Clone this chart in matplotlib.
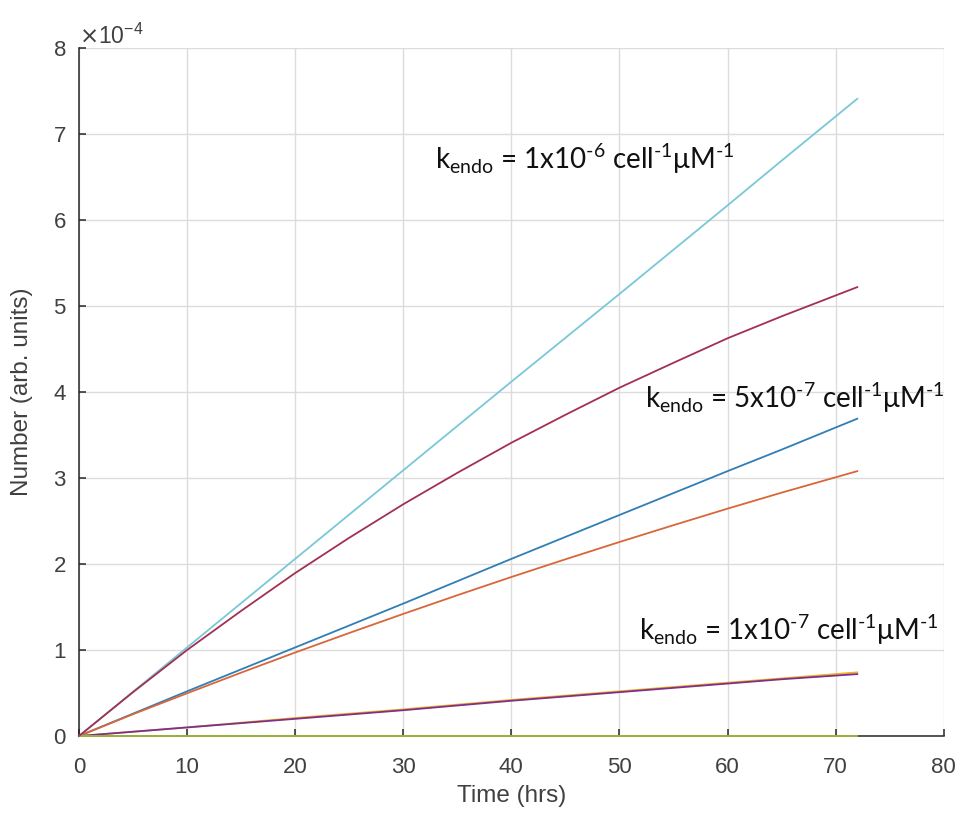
# kendo curves, recreated in matplotlib

import matplotlib.pyplot as plt

# time points (hrs)
t = [0, 5, 10, 15, 20, 25, 30, 35, 40, 45, 50, 55, 60, 65, 72]

# series values (arb. units)
cyan_vals = [0, 0.515e-4, 1.03e-4, 1.545e-4, 2.06e-4, 2.575e-4, 3.09e-4, 3.605e-4, 4.12e-4,
             4.63e-4, 5.14e-4, 5.655e-4, 6.17e-4, 6.69e-4, 7.41e-4]
red_vals = [0, 0.51e-4, 1.00e-4, 1.455e-4, 1.895e-4, 2.305e-4, 2.695e-4, 3.06e-4, 3.41e-4,
            3.735e-4, 4.05e-4, 4.34e-4, 4.625e-4, 4.88e-4, 5.22e-4]
blue_vals = [0, 0.26e-4, 0.52e-4, 0.775e-4, 1.03e-4, 1.285e-4, 1.54e-4, 1.80e-4, 2.06e-4,
             2.315e-4, 2.57e-4, 2.825e-4, 3.08e-4, 3.33e-4, 3.69e-4]
orange_vals = [0, 0.254e-4, 0.497e-4, 0.737e-4, 0.971e-4, 1.198e-4, 1.42e-4, 1.637e-4, 1.849e-4,
               2.055e-4, 2.256e-4, 2.452e-4, 2.644e-4, 2.83e-4, 3.08e-4]
yellow_vals = [0, 0.05e-4, 0.10e-4, 0.155e-4, 0.21e-4, 0.26e-4, 0.31e-4, 0.365e-4, 0.42e-4,
               0.47e-4, 0.52e-4, 0.57e-4, 0.62e-4, 0.67e-4, 0.74e-4]
purple_vals = [0, 0.05e-4, 0.10e-4, 0.15e-4, 0.20e-4, 0.25e-4, 0.30e-4, 0.355e-4, 0.41e-4,
               0.46e-4, 0.51e-4, 0.56e-4, 0.61e-4, 0.66e-4, 0.72e-4]
green_vals = [0] * 15

series = [
    (blue_vals, '#2f7fb5'),
    (orange_vals, '#d9663a'),
    (yellow_vals, '#EDB120'),
    (purple_vals, '#7E2F8E'),
    (green_vals, '#9cbc3c'),
    (cyan_vals, '#78c8d8'),
    (red_vals, '#a23050'),
]

H = '\u2010'  # short hyphen like the original
labels = [
    (r'k$_{\mathdefault{endo}}$ = 1x10$^{\mathdefault{' + H + r'6}}$ cell$^{\mathdefault{' + H + r'1}}$μM$^{\mathdefault{' + H + r'1}}$', 32.9, 6.59e-4),
    (r'k$_{\mathdefault{endo}}$ = 5x10$^{\mathdefault{' + H + r'7}}$ cell$^{\mathdefault{' + H + r'1}}$μM$^{\mathdefault{' + H + r'1}}$', 52.4, 3.81e-4),
    (r'k$_{\mathdefault{endo}}$ = 1x10$^{\mathdefault{' + H + r'7}}$ cell$^{\mathdefault{' + H + r'1}}$μM$^{\mathdefault{' + H + r'1}}$', 51.8, 1.12e-4),
]

plt.rcParams['font.family'] = ['Liberation Sans', 'DejaVu Sans']

fig = plt.figure(figsize=(9.63, 8.21), dpi=100)
ax = fig.add_axes([0.082, 0.1035, 0.898, 0.838])

for vals, c in series:
    ax.plot(t, vals, color=c, linewidth=1.3, clip_on=False, zorder=3)

for txt, x, y in labels:
    ax.text(x, y, txt, fontsize=20, family=['Lato', 'DejaVu Sans'],
            ha='left', va='baseline', color='#111111')

ax.set_xlim(0, 80)
ax.set_ylim(0, 8e-4)
ax.set_xticks(range(0, 81, 10))
ax.set_yticks([i * 1e-4 for i in range(9)])
ax.ticklabel_format(axis='y', style='sci', scilimits=(0, 0), useMathText=True)
ax.yaxis.get_offset_text().set_fontsize(16.5)
ax.yaxis.get_offset_text().set_color('#404040')

ax.grid(True, color='#dcdcdc', linewidth=1.0)
ax.set_axisbelow(True)
for s in ['top', 'right']:
    ax.spines[s].set_visible(False)
for s in ['left', 'bottom']:
    ax.spines[s].set_color('#262626')
    ax.spines[s].set_linewidth(1.1)

ax.tick_params(direction='in', length=5, width=1.1, colors='#262626',
               labelsize=16, labelcolor='#404040')
ax.tick_params(axis='x', pad=15)
ax.tick_params(axis='y', pad=9)
ax.set_xlabel('Time (hrs)', fontsize=17.5, color='#404040', labelpad=5)
ax.set_ylabel('Number (arb. units)', fontsize=17.5, color='#404040', labelpad=14)

plt.savefig('out.png', dpi=100)
